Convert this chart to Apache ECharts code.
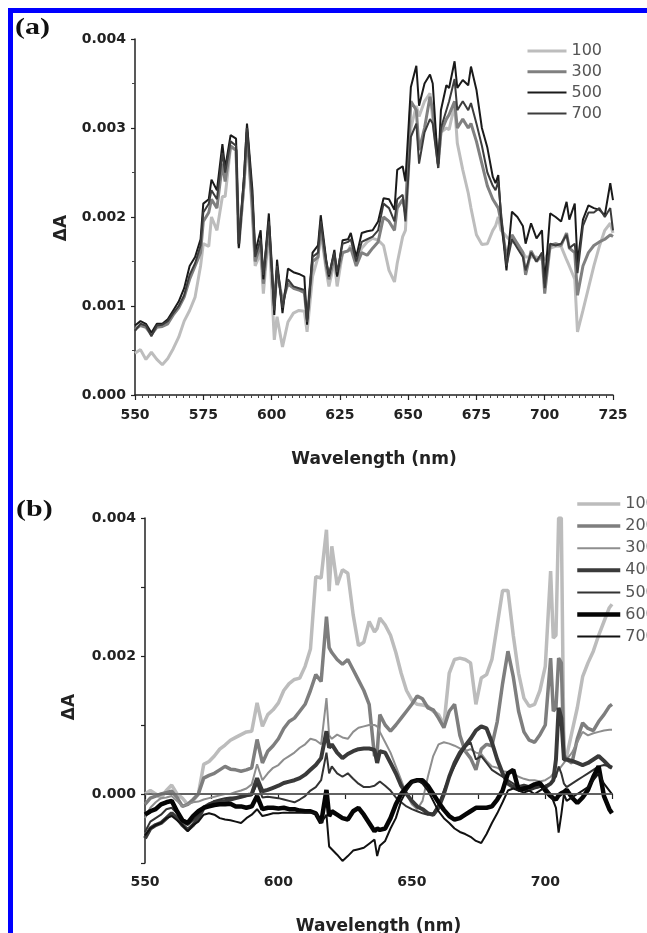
<!DOCTYPE html>
<html>
<head>
<meta charset="utf-8">
<script src="https://cdn.jsdelivr.net/npm/echarts@6/dist/echarts.min.js"></script>
<style>
  html, body { margin: 0; padding: 0; background: #fff; }
  #chart { width: 647px; height: 933px; }
</style>
</head>
<body>
<div id="chart"></div>
<script>
// values are in units of 0.001 (ΔA x 1000); axis labels show real ΔA

// panel (a)
const wlA = [
  550, 552, 554, 556, 558, 560, 562, 564, 566, 568,
  570, 572, 574, 575, 577, 578, 580, 582, 583, 585,
  587, 588, 590, 591, 593, 594, 596, 597, 599, 601,
  602, 604, 606, 608, 610, 612, 613, 615, 617, 618,
  620, 621, 623, 624, 626, 628, 629, 631, 633, 635,
  637, 639, 641, 643, 645, 646, 648, 649, 651, 653,
  654, 656, 658, 659, 661, 662, 664, 665, 667, 668,
  670, 672, 673, 675, 677, 679, 681, 682, 683, 684,
  686, 688, 690, 692, 693, 695, 697, 699, 700, 702,
  704, 706, 708, 709, 711, 712, 714, 716, 718, 720,
  722, 724, 725
]
const a100 = [
  0.47, 0.51, 0.40, 0.48, 0.40, 0.34, 0.41, 0.52, 0.65, 0.83,
  0.95, 1.10, 1.45, 1.70, 1.67, 2.00, 1.85, 2.23, 2.23, 2.79,
  2.75, 1.67, 2.40, 3.00, 2.00, 1.45, 1.60, 1.14, 1.85, 0.62,
  0.88, 0.54, 0.82, 0.92, 0.95, 0.94, 0.71, 1.33, 1.55, 1.85,
  1.40, 1.22, 1.50, 1.22, 1.60, 1.62, 1.68, 1.50, 1.65, 1.72,
  1.76, 1.74, 1.68, 1.40, 1.27, 1.48, 1.78, 1.85, 3.00, 3.25,
  3.13, 3.30, 3.39, 3.10, 2.60, 2.95, 3.00, 2.98, 3.26, 2.83,
  2.53, 2.27, 2.10, 1.80, 1.69, 1.70, 1.85, 1.90, 2.00, 1.85,
  1.78, 1.72, 1.70, 1.60, 1.55, 1.55, 1.55, 1.52, 1.52, 1.65,
  1.67, 1.67, 1.52, 1.45, 1.30, 0.71, 0.95, 1.20, 1.45, 1.67,
  1.85, 1.93, 1.82
]
const a300 = [
  0.74, 0.78, 0.76, 0.68, 0.76, 0.77, 0.80, 0.90, 0.98, 1.10,
  1.30, 1.45, 1.60, 1.95, 2.05, 2.20, 2.10, 2.60, 2.40, 2.80,
  2.75, 1.70, 2.40, 2.95, 2.10, 1.50, 1.70, 1.25, 1.90, 1.00,
  1.40, 1.05, 1.25, 1.20, 1.18, 1.15, 0.85, 1.50, 1.55, 1.90,
  1.45, 1.30, 1.55, 1.35, 1.60, 1.62, 1.65, 1.45, 1.60, 1.57,
  1.65, 1.72, 2.00, 1.95, 1.85, 2.10, 2.20, 2.05, 3.30, 3.20,
  2.75, 3.00, 3.35, 3.20, 2.60, 2.95, 3.10, 3.15, 3.30, 3.00,
  3.10, 3.00, 3.05, 2.85, 2.60, 2.35, 2.20, 2.15, 2.10, 1.95,
  1.55, 1.80, 1.70, 1.60, 1.35, 1.62, 1.50, 1.58, 1.14, 1.68,
  1.70, 1.68, 1.82, 1.65, 1.60, 1.12, 1.45, 1.60, 1.68, 1.72,
  1.75, 1.80, 1.78
]
const a500 = [
  0.78, 0.83, 0.80, 0.70, 0.80, 0.80, 0.85, 0.95, 1.05, 1.20,
  1.45, 1.55, 1.75, 2.15, 2.20, 2.42, 2.30, 2.82, 2.55, 2.92,
  2.88, 1.65, 2.50, 3.05, 2.30, 1.60, 1.85, 1.30, 2.04, 0.90,
  1.52, 0.92, 1.42, 1.38, 1.36, 1.33, 0.79, 1.60, 1.68, 2.02,
  1.52, 1.33, 1.63, 1.33, 1.74, 1.75, 1.82, 1.55, 1.82, 1.84,
  1.85, 1.95, 2.21, 2.20, 2.08, 2.53, 2.57, 2.40, 3.46, 3.70,
  3.25, 3.50, 3.60, 3.50, 2.55, 3.20, 3.48, 3.45, 3.75, 3.45,
  3.54, 3.48, 3.69, 3.43, 3.00, 2.78, 2.45, 2.38, 2.47, 2.00,
  1.40, 2.06, 2.00, 1.90, 1.70, 1.93, 1.76, 1.85, 1.25, 2.04,
  2.00, 1.95, 2.17, 1.97, 2.15, 1.48, 1.97, 2.13, 2.10, 2.08,
  2.02, 2.38, 2.19
]
const a700 = [
  0.72, 0.80, 0.78, 0.66, 0.78, 0.79, 0.83, 0.92, 1.00, 1.12,
  1.35, 1.48, 1.68, 2.05, 2.15, 2.30, 2.20, 2.72, 2.50, 2.85,
  2.80, 1.70, 2.45, 3.00, 2.20, 1.55, 1.75, 1.35, 1.95, 0.95,
  1.45, 0.98, 1.30, 1.22, 1.20, 1.18, 0.82, 1.55, 1.60, 1.95,
  1.50, 1.35, 1.60, 1.38, 1.70, 1.72, 1.75, 1.50, 1.72, 1.75,
  1.78, 1.85, 2.15, 2.10, 1.95, 2.20, 2.25, 1.95, 2.90, 3.05,
  2.60, 2.95, 3.10, 3.05, 2.55, 3.00, 3.20, 3.30, 3.55, 3.20,
  3.30, 3.20, 3.28, 3.05, 2.80, 2.50, 2.35, 2.30, 2.40, 2.05,
  1.45, 1.75, 1.65, 1.55, 1.40, 1.60, 1.50, 1.60, 1.20, 1.70,
  1.68, 1.70, 1.80, 1.65, 1.70, 1.37, 1.90, 2.05, 2.05, 2.10,
  2.00, 2.10, 1.85
]

// panel (b)
const wlB = [
  550, 552, 554, 556, 558, 560, 562, 564, 566, 568,
  570, 572, 574, 576, 578, 580, 582, 584, 586, 588,
  590, 592, 594, 596, 598, 600, 602, 604, 606, 608,
  610, 612, 614, 616, 618, 619, 620, 622, 624, 626,
  628, 630, 632, 634, 636, 637, 638, 640, 642, 644,
  646, 648, 650, 652, 654, 656, 658, 660, 662, 664,
  666, 668, 670, 672, 674, 676, 678, 680, 682, 684,
  686, 688, 690, 692, 694, 696, 698, 700,
  702, 703, 704, 705, 706, 707, 708,
  710, 712, 714, 716, 718, 720, 722, 724, 725
]
const b100 = [
  0.00, 0.05, 0.00, -0.06, 0.05, 0.13, 0.00, -0.06, -0.15, -0.10,
  0.00, 0.43, 0.47, 0.55, 0.65, 0.71, 0.78, 0.82, 0.86, 0.90,
  0.91, 1.32, 0.98, 1.15, 1.22, 1.32, 1.50, 1.60, 1.66, 1.68,
  1.85, 2.10, 3.15, 3.13, 3.83, 2.94, 3.59, 3.03, 3.25, 3.20,
  2.60, 2.15, 2.20, 2.50, 2.35, 2.40, 2.55, 2.45, 2.30, 2.05,
  1.75, 1.50, 1.36, 1.30, 1.29, 1.27, 1.20, 1.15, 1.00, 1.75,
  1.95, 1.97, 1.95, 1.90, 1.30, 1.68, 1.73, 1.95, 2.45, 2.95,
  2.95, 2.30, 1.75, 1.39, 1.27, 1.30, 1.50, 1.85,
  3.23, 2.26, 2.30, 4.00, 4.00, 0.52, 0.55,
  0.90, 1.25, 1.70, 1.90, 2.07, 2.30, 2.50, 2.70, 2.75
]
const b200 = [
  -0.15, -0.06, -0.03, 0.00, 0.02, 0.04, -0.05, -0.18, -0.15, -0.08,
  0.00, 0.23, 0.27, 0.30, 0.35, 0.40, 0.36, 0.35, 0.33, 0.35,
  0.38, 0.79, 0.45, 0.62, 0.70, 0.80, 0.95, 1.05, 1.10, 1.20,
  1.30, 1.50, 1.73, 1.63, 2.57, 2.12, 2.05, 1.95, 1.88, 1.95,
  1.80, 1.65, 1.50, 1.30, 0.55, 0.60, 1.15, 1.00, 0.91, 1.00,
  1.10, 1.20, 1.30, 1.42, 1.38, 1.25, 1.22, 1.10, 0.96, 1.20,
  1.30, 0.85, 0.62, 0.52, 0.35, 0.65, 0.72, 0.70, 1.05, 1.60,
  2.07, 1.70, 1.20, 0.90, 0.78, 0.75, 0.86, 1.00,
  1.97, 1.20, 1.25, 1.97, 1.90, 0.57, 0.50,
  0.45, 0.80, 1.03, 0.95, 0.92, 1.05, 1.15, 1.27, 1.30
]
const b300 = [
  -0.35, -0.20, -0.12, -0.06, -0.05, -0.03, -0.10, -0.18, -0.15, -0.12,
  -0.11, -0.08, -0.06, -0.04, -0.02, 0.00, 0.00, 0.03, 0.05, 0.08,
  0.14, 0.43, 0.20, 0.30, 0.38, 0.42, 0.50, 0.55, 0.60, 0.67,
  0.72, 0.80, 0.78, 0.72, 1.39, 0.85, 0.80, 0.86, 0.82, 0.80,
  0.90, 0.96, 0.98, 1.00, 1.00, 0.98, 0.90, 0.75, 0.60, 0.40,
  0.20, 0.00, -0.15, -0.22, -0.10, 0.25, 0.55, 0.72, 0.75, 0.73,
  0.70, 0.66, 0.62, 0.65, 0.60, 0.58, 0.48, 0.40, 0.38, 0.33,
  0.32, 0.30, 0.25, 0.22, 0.20, 0.20, 0.18, 0.20,
  0.25, 0.30, 0.30, 0.35, 0.40, 0.45, 0.50,
  0.60, 0.75, 0.90, 0.85, 0.88, 0.90, 0.92, 0.93, 0.93
]
const b400 = [
  -0.64, -0.50, -0.45, -0.42, -0.35, -0.28, -0.35, -0.45, -0.52, -0.45,
  -0.35, -0.20, -0.15, -0.12, -0.11, -0.10, -0.08, -0.06, -0.04, -0.02,
  0.00, 0.23, 0.04, 0.06, 0.09, 0.12, 0.16, 0.18, 0.20, 0.23,
  0.28, 0.35, 0.42, 0.52, 0.91, 0.67, 0.72, 0.60, 0.52, 0.58,
  0.62, 0.65, 0.66, 0.66, 0.64, 0.45, 0.62, 0.60, 0.45, 0.30,
  0.12, 0.00, -0.10, -0.18, -0.22, -0.28, -0.30, -0.20, 0.00, 0.25,
  0.45, 0.60, 0.70, 0.80, 0.92, 0.98, 0.95, 0.75, 0.50, 0.30,
  0.15, 0.10, 0.10, 0.12, 0.10, 0.10, 0.12, 0.10,
  0.15, 0.20, 0.50, 1.25, 1.10, 0.50, 0.50,
  0.48, 0.45, 0.42, 0.45, 0.50, 0.55, 0.48, 0.40, 0.38
]
const b500 = [
  -0.55, -0.40, -0.35, -0.30, -0.22, -0.20, -0.28, -0.40, -0.45, -0.38,
  -0.30, -0.20, -0.15, -0.10, -0.08, -0.06, -0.05, -0.05, -0.04, -0.03,
  -0.02, 0.15, -0.05, -0.04, -0.05, -0.06, -0.08, -0.10, -0.12, -0.08,
  -0.03, 0.05, 0.10, 0.20, 0.60, 0.30, 0.40, 0.30, 0.25, 0.30,
  0.22, 0.15, 0.10, 0.10, 0.12, 0.15, 0.18, 0.12, 0.05, -0.05,
  -0.12, -0.18, -0.22, -0.25, -0.28, -0.30, -0.28, -0.15, 0.05, 0.25,
  0.40, 0.55, 0.68, 0.75, 0.50, 0.55, 0.45, 0.35, 0.30, 0.25,
  0.20, 0.15, 0.10, 0.05, 0.05, 0.08, 0.10, 0.12,
  0.15, 0.20, 0.25, 0.40, 0.30, 0.15, 0.10,
  0.15, 0.20, 0.25, 0.30, 0.35, 0.40, 0.42, 0.40, 0.38
]
const b600 = [
  -0.30, -0.25, -0.22, -0.15, -0.12, -0.10, -0.25, -0.38, -0.42, -0.32,
  -0.25, -0.20, -0.18, -0.16, -0.15, -0.15, -0.14, -0.18, -0.18, -0.20,
  -0.18, -0.03, -0.22, -0.20, -0.20, -0.21, -0.20, -0.22, -0.22, -0.24,
  -0.25, -0.25, -0.28, -0.42, 0.06, -0.32, -0.25, -0.30, -0.35, -0.37,
  -0.25, -0.20, -0.30, -0.42, -0.54, -0.50, -0.52, -0.50, -0.35, -0.15,
  0.00, 0.10, 0.18, 0.20, 0.20, 0.12, 0.00, -0.12, -0.23, -0.32,
  -0.37, -0.35, -0.30, -0.25, -0.20, -0.20, -0.20, -0.18, -0.08, 0.05,
  0.30, 0.35, 0.06, 0.08, 0.10, 0.14, 0.16, 0.05,
  -0.03, -0.06, -0.08, -0.02, 0.01, 0.03, 0.06,
  -0.05, -0.13, -0.05, 0.06, 0.25, 0.40, -0.03, -0.22, -0.28
]
const b700 = [
  -0.60, -0.50, -0.45, -0.42, -0.35, -0.32, -0.38, -0.45, -0.54, -0.45,
  -0.40, -0.30, -0.28, -0.30, -0.35, -0.37, -0.38, -0.40, -0.42, -0.35,
  -0.30, -0.22, -0.32, -0.30, -0.28, -0.28, -0.27, -0.27, -0.27, -0.27,
  -0.27, -0.27, -0.28, -0.42, -0.30, -0.76, -0.80, -0.88, -0.97, -0.90,
  -0.82, -0.80, -0.78, -0.72, -0.66, -0.90, -0.75, -0.68, -0.50, -0.35,
  -0.10, 0.05, 0.16, 0.20, 0.15, 0.05, -0.10, -0.25, -0.35, -0.42,
  -0.50, -0.55, -0.58, -0.62, -0.68, -0.71, -0.58, -0.42, -0.28, -0.12,
  0.05, 0.08, 0.05, 0.02, 0.05, 0.00, 0.05, 0.10,
  0.00, -0.10, -0.20, -0.56, -0.30, 0.00, -0.10,
  -0.05, 0.00, 0.05, 0.10, 0.20, 0.30, 0.15, 0.05, 0.00
]

const labelFont = 'DejaVu Sans'
const ink = '#222'

function pairs(wl, vals) {
  return wl.map((w, i) => [w, vals[i]])
}

function line(name, wl, vals, color, width, idx) {
  return {
    name: name,
    type: 'line',
    xAxisIndex: idx,
    yAxisIndex: idx,
    data: pairs(wl, vals),
    symbol: 'none',
    lineStyle: { color: color, width: width },
    itemStyle: { color: color },
    animation: false
  }
}

function xAxis(gridIndex, minorSplit, labelEvery, margin, nameGap) {
  return {
    type: 'value',
    gridIndex: gridIndex,
    min: 550,
    max: 725,
    interval: 25,
    name: 'Wavelength (nm)',
    nameLocation: 'middle',
    nameGap: nameGap,
    nameTextStyle: { fontFamily: labelFont, fontWeight: 'bold', fontSize: 17, color: ink },
    axisLine: { lineStyle: { color: ink, width: 1.5 } },
    axisTick: { length: 5, lineStyle: { color: ink, width: 1.2 } },
    minorTick: { show: minorSplit > 1, splitNumber: minorSplit, length: 3, lineStyle: { color: '#444', width: 1 } },
    splitLine: { show: false },
    axisLabel: {
      margin: margin,
      fontFamily: labelFont,
      fontWeight: 'bold',
      fontSize: 14,
      color: ink,
      formatter: v => (v % labelEvery === 0 ? String(v) : '')
    }
  }
}

function yAxis(gridIndex, min, max, labelEvery) {
  return {
    type: 'value',
    gridIndex: gridIndex,
    min: min,
    max: max,
    interval: 1,
    axisLine: { show: true, lineStyle: { color: ink, width: 1.5 } },
    axisTick: { show: true, length: 4, lineStyle: { color: ink, width: 1.2 } },
    minorTick: { show: gridIndex === 0, splitNumber: 2, length: 3, lineStyle: { color: '#444', width: 1 } },
    splitLine: { show: false },
    axisLabel: {
      margin: 9,
      fontFamily: labelFont,
      fontWeight: 'bold',
      fontSize: 14,
      color: ink,
      formatter: v => (Math.round(v) % labelEvery === 0 && v >= 0 ? (v / 1000).toFixed(3) : '')
    }
  }
}

const legendText = { fontFamily: labelFont, fontSize: 16, color: '#555' }

const chart = echarts.init(document.getElementById('chart'), null, { renderer: 'canvas' })

const zeroLine = {
  silent: true,
  symbol: 'none',
  label: { show: false },
  lineStyle: { color: '#666', width: 1.5, type: 'solid' },
  data: [{ yAxis: 0 }]
}

const seriesB = [
  line('b100', wlB, b100, '#bcbcbc', 3.5, 1),
  line('b200', wlB, b200, '#7e7e7e', 3.5, 1),
  line('b300', wlB, b300, '#8e8e8e', 2, 1),
  line('b400', wlB, b400, '#3a3a3a', 4, 1),
  line('b500', wlB, b500, '#333333', 2, 1),
  line('b600', wlB, b600, '#050505', 4.5, 1),
  line('b700', wlB, b700, '#111111', 2, 1)
]
seriesB[0].markLine = zeroLine

chart.setOption({
  backgroundColor: '#fff',
  animation: false,
  grid: [
    { left: 135, top: 39, width: 478, height: 356, outerBoundsMode: 'none' },
    { left: 145, top: 518, width: 467, height: 345, outerBoundsMode: 'none' }
  ],
  xAxis: [
    xAxis(0, 10, 25, 13, 56),
    xAxis(1, 0, 50, 12, 55)
  ],
  yAxis: [
    yAxis(0, 0, 4, 1),
    yAxis(1, -1, 4, 2)
  ],
  legend: [
    {
      orient: 'vertical',
      left: 526,
      top: 43,
      padding: 0,
      itemWidth: 39,
      itemHeight: 14,
      itemGap: 4.8,
      selectedMode: false,
      itemStyle: { opacity: 0 },
      lineStyle: { width: 'inherit' },
      textStyle: legendText,
      formatter: n => n.slice(1),
      data: ['a100', 'a300', 'a500', 'a700']
    },
    {
      orient: 'vertical',
      left: 575,
      top: 496,
      padding: 0,
      itemWidth: 43,
      itemHeight: 14,
      itemGap: 6.1,
      selectedMode: false,
      itemStyle: { opacity: 0 },
      lineStyle: { width: 'inherit' },
      textStyle: legendText,
      formatter: n => n.slice(1),
      data: ['b100', 'b200', 'b300', 'b400', 'b500', 'b600', 'b700']
    }
  ],
  graphic: [
    {
      type: 'rect',
      silent: true,
      shape: { x: 10.5, y: 10.5, width: 900, height: 1200 },
      style: { fill: 'none', stroke: '#0000ff', lineWidth: 5 }
    },
    {
      type: 'text', x: 15, y: 28, scaleX: 1.25,
      style: { text: '(a)', font: 'bold 24px "Liberation Serif"', fill: '#111', textVerticalAlign: 'middle' }
    },
    {
      type: 'text', x: 16, y: 510, scaleX: 1.25,
      style: { text: '(b)', font: 'bold 24px "Liberation Serif"', fill: '#111', textVerticalAlign: 'middle' }
    },
    {
      type: 'text', x: 62, y: 228, rotation: Math.PI / 2,
      style: { text: 'ΔA', font: 'bold 17px "DejaVu Sans"', fill: ink, textAlign: 'center', textVerticalAlign: 'middle' }
    },
    {
      type: 'text', x: 70, y: 707, rotation: Math.PI / 2,
      style: { text: 'ΔA', font: 'bold 17px "DejaVu Sans"', fill: ink, textAlign: 'center', textVerticalAlign: 'middle' }
    }
  ],
  series: [
    line('a100', wlA, a100, '#bdbdbd', 3, 0),
    line('a300', wlA, a300, '#808080', 3, 0),
    line('a500', wlA, a500, '#1a1a1a', 2, 0),
    line('a700', wlA, a700, '#3c3c3c', 2, 0)
  ].concat(seriesB)
})
</script>
</body>
</html>
